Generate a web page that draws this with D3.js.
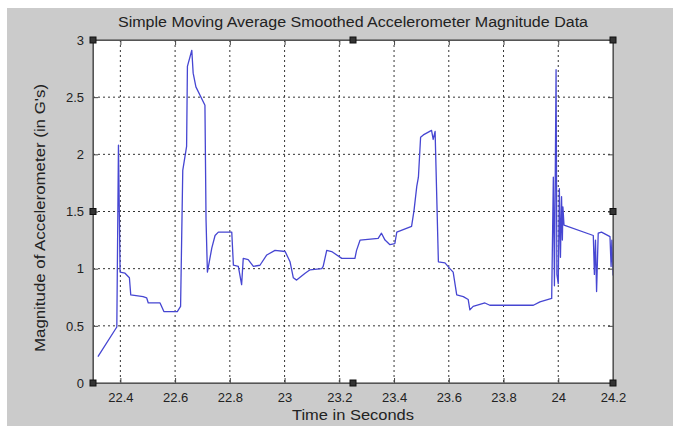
<!DOCTYPE html>
<html>
<head>
<meta charset="utf-8">
<script src="https://cdn.jsdelivr.net/npm/d3@7"></script>
<style>
  body { margin: 0; background: #fff; }
  text { font-family: "Liberation Sans", Arial, sans-serif; fill: #222; }
</style>
</head>
<body>
<div id="chart"></div>
<script>
// values
const xTicks = [22.4, 22.6, 22.8, 23, 23.2, 23.4, 23.6, 23.8, 24, 24.2];
const yTicks = [0, 0.5, 1, 1.5, 2, 2.5, 3];
const xTickLabels = ["22.4", "22.6", "22.8", "23", "23.2", "23.4", "23.6", "23.8", "24", "24.2"];
const yTickLabels = ["0", "0.5", "1", "1.5", "2", "2.5", "3"];

const times = [
  22.318, 22.387, 22.393, 22.399, 22.417, 22.433, 22.438, 22.483, 22.496, 22.502,
  22.545, 22.559, 22.608, 22.620, 22.628, 22.642, 22.645, 22.661, 22.666, 22.676,
  22.709, 22.713, 22.718, 22.734, 22.746, 22.758, 22.807, 22.813, 22.831, 22.843,
  22.849, 22.867, 22.886, 22.910, 22.935, 22.965, 23.002, 23.020, 23.032, 23.044,
  23.075, 23.093, 23.136, 23.141, 23.154, 23.172, 23.209, 23.257, 23.263, 23.276,
  23.342, 23.354, 23.367, 23.385, 23.403, 23.410, 23.464, 23.473, 23.483, 23.489,
  23.497, 23.507, 23.537, 23.543, 23.550, 23.562, 23.586, 23.604, 23.616, 23.629,
  23.653, 23.671, 23.677, 23.689, 23.732, 23.750, 23.909, 23.933, 23.976, 23.982,
  23.986, 23.992, 23.995, 24.000, 24.004, 24.008, 24.012, 24.015, 24.017, 24.021,
  24.128, 24.132, 24.136, 24.140, 24.146, 24.158, 24.189, 24.193, 24.196, 24.200
];
const magnitude = [
  0.23, 0.49, 2.08, 0.97, 0.96, 0.92, 0.77, 0.755, 0.745, 0.70,
  0.70, 0.625, 0.625, 0.67, 1.86, 2.07, 2.77, 2.91, 2.71, 2.59,
  2.43, 1.43, 0.97, 1.18, 1.29, 1.32, 1.32, 1.03, 1.02, 0.86,
  1.09, 1.08, 1.02, 1.03, 1.12, 1.16, 1.15, 1.06, 0.92, 0.90,
  0.96, 0.99, 1.00, 1.02, 1.16, 1.15, 1.09, 1.09, 1.16, 1.25,
  1.265, 1.31, 1.25, 1.21, 1.22, 1.32, 1.37, 1.51, 1.72, 1.80,
  2.15, 2.17, 2.21, 2.13, 2.20, 1.06, 1.05, 1.00, 0.97, 0.77,
  0.755, 0.73, 0.64, 0.67, 0.70, 0.68, 0.68, 0.71, 0.74, 1.80,
  0.85, 2.74, 0.95, 0.87, 1.70, 1.10, 1.63, 1.25, 1.54, 1.38,
  1.29, 0.95, 1.25, 0.80, 1.31, 1.32, 1.28, 1.02, 1.25, 0.94
];

const W = 673, H = 426;
const margin = { top: 40, right: 60, bottom: 43, left: 93 };
const width = W - margin.left - margin.right,
  height = H - margin.top - margin.bottom;

const svg = d3.select("#chart").append("svg")
  .attr("width", W)
  .attr("height", H);

// grey figure background, with the light strip at the top/left edge
svg.append("rect").attr("x", 7).attr("y", 8).attr("width", W - 7).attr("height", H - 8)
  .attr("fill", "#cbcbcb");

const g = svg.append("g")
  .attr("transform", "translate(" + margin.left + "," + margin.top + ")");

const x = d3.scaleLinear().domain([22.3, 24.2]).range([0, width]);
const y = d3.scaleLinear().domain([0, 3]).range([height, 0]);

// plot area
g.append("rect").attr("width", width).attr("height", height).attr("fill", "#fff");

// dotted grid
g.selectAll(".vgrid").data(xTicks.filter(d => d < 24.2)).join("line")
  .attr("x1", d => x(d)).attr("x2", d => x(d))
  .attr("y1", 0).attr("y2", height)
  .attr("stroke", "#333").attr("stroke-width", 1)
  .attr("stroke-dasharray", "2,3");
g.selectAll(".hgrid").data(yTicks.filter(d => d > 0 && d < 3)).join("line")
  .attr("x1", 0).attr("x2", width)
  .attr("y1", d => y(d)).attr("y2", d => y(d))
  .attr("stroke", "#333").attr("stroke-width", 1)
  .attr("stroke-dasharray", "2,3");

// the trace
const pts = times.map((t, i) => ({ t: t, v: magnitude[i] }));
const line = d3.line().x(d => x(d.t)).y(d => y(d.v));
g.append("path")
  .datum(pts)
  .attr("fill", "none")
  .attr("stroke", "#4646d2")
  .attr("stroke-width", 1.3)
  .attr("stroke-linejoin", "round")
  .attr("d", line);

// axes with inward ticks
const xAxis = g.append("g")
  .attr("transform", "translate(0," + height + ")")
  .call(d3.axisBottom(x).tickValues(xTicks)
    .tickFormat((d, i) => xTickLabels[i]).tickSizeInner(-5).tickSizeOuter(0).tickPadding(10));
const yAxis = g.append("g")
  .call(d3.axisLeft(y).tickValues(yTicks)
    .tickFormat((d, i) => yTickLabels[i]).tickSizeInner(-5).tickSizeOuter(0).tickPadding(9));
g.append("g").call(d3.axisTop(x).tickValues(xTicks).tickFormat("").tickSizeInner(-5).tickSizeOuter(0));
g.append("g").attr("transform", "translate(" + width + ",0)")
  .call(d3.axisRight(y).tickValues(yTicks).tickFormat("").tickSizeInner(-5).tickSizeOuter(0));

svg.selectAll(".domain").attr("stroke", "#555");
svg.selectAll(".tick line").attr("stroke", "#444");
xAxis.selectAll("text").style("font-size", "13px").attr("fill", "#222");
yAxis.selectAll("text").style("font-size", "13px").attr("fill", "#222");

// box
g.append("rect").attr("width", width).attr("height", height)
  .attr("fill", "none").attr("stroke", "#555").attr("stroke-width", 1.2);

// selection handles
const hx = [0, width / 2, width], hy = [0, height / 2, height];
const handles = [];
hx.forEach(a => hy.forEach(b => { if (!(a === width / 2 && b === height / 2)) handles.push([a, b]); }));
g.selectAll(".handle").data(handles).join("rect")
  .attr("x", d => d[0] - 3).attr("y", d => d[1] - 3)
  .attr("width", 6).attr("height", 6)
  .attr("fill", "#333").attr("stroke", "#111");

// titles
svg.append("text")
  .attr("x", margin.left + width / 2).attr("y", 27)
  .attr("text-anchor", "middle")
  .style("font-size", "14px")
  .attr("textLength", 470)
  .attr("lengthAdjust", "spacingAndGlyphs")
  .text("Simple Moving Average Smoothed Accelerometer Magnitude Data");

svg.append("text")
  .attr("x", margin.left + width / 2).attr("y", 420)
  .attr("text-anchor", "middle")
  .style("font-size", "14px")
  .attr("textLength", 122)
  .attr("lengthAdjust", "spacingAndGlyphs")
  .text("Time in Seconds");

svg.append("text")
  .attr("transform", "translate(45,218) rotate(-90)")
  .attr("text-anchor", "middle")
  .style("font-size", "14px")
  .attr("textLength", 268)
  .attr("lengthAdjust", "spacingAndGlyphs")
  .text("Magnitude of Accelerometer (in G's)");
</script>
</body>
</html>
